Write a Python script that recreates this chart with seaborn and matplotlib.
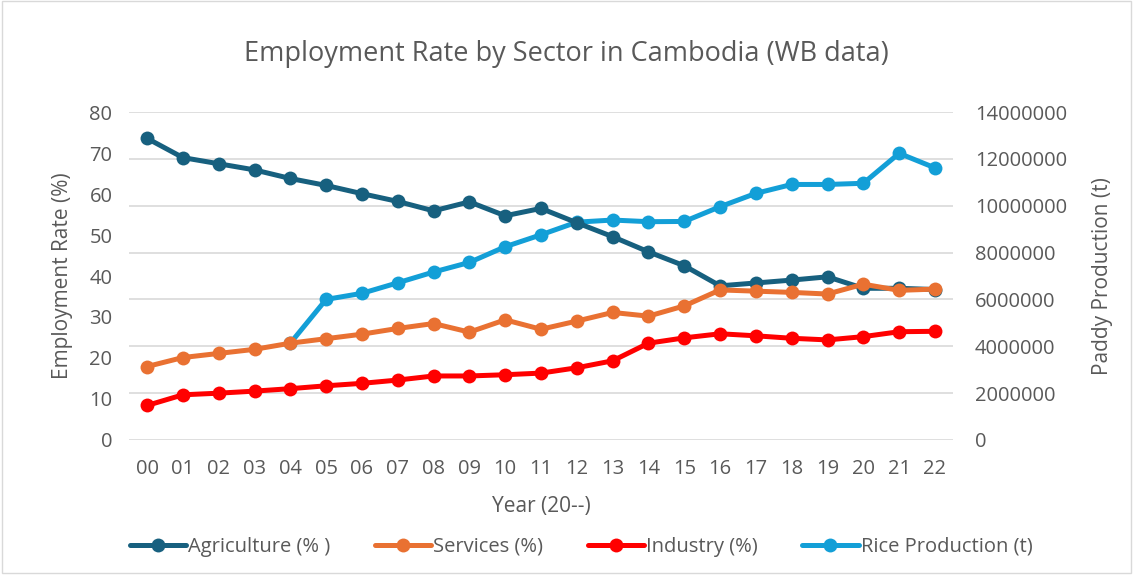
import numpy as np
import pandas as pd
import matplotlib.pyplot as plt
import seaborn as sns
from matplotlib.lines import Line2D

# Data
years = ["00", "01", "02", "03", "04", "05", "06", "07", "08", "09", "10",
         "11", "12", "13", "14", "15", "16", "17", "18", "19", "20", "21", "22"]
agriculture = [73.6, 68.9, 67.4, 65.9, 63.8, 62.1, 60.1, 58.2, 55.9, 58.1, 54.7,
               56.5, 53.0, 49.6, 45.9, 42.5, 37.6, 38.3, 39.0, 39.8, 37.0, 37.0, 36.7]
services = [17.9, 20.1, 21.1, 22.1, 23.6, 24.7, 25.8, 27.2, 28.4, 26.3, 29.3,
            27.0, 29.0, 31.1, 30.2, 32.7, 36.6, 36.3, 36.0, 35.6, 38.0, 36.5, 36.8]
industry = [8.4, 11.0, 11.4, 11.9, 12.5, 13.2, 13.8, 14.6, 15.6, 15.6, 15.9,
            16.3, 17.6, 19.3, 23.6, 24.9, 25.9, 25.4, 24.8, 24.4, 25.2, 26.4, 26.5]
rice = [np.nan, np.nan, np.nan, np.nan, 4130000, 6000000, 6260000, 6710000, 7170000,
        7580000, 8250000, 8760000, 9300000, 9390000, 9320000, 9330000, 9960000,
        10530000, 10910000, 10910000, 10960000, 12240000, 11620000]

df = pd.DataFrame({"Year": np.arange(len(years)), "Agriculture": agriculture,
                   "Services": services, "Industry": industry, "Rice": rice})

c_agri = "#17607f"
c_serv = "#e97132"
c_ind = "#ff0000"
c_rice = "#139fd7"
grey = "#595959"

sns.set_style("white")
plt.rcParams["font.family"] = ["Open Sans", "DejaVu Sans"]

fig, ax = plt.subplots(figsize=(11.33, 5.75), dpi=100)
fig.subplots_adjust(left=0.114, right=0.841, top=0.805, bottom=0.235)
ax2 = ax.twinx()

style = dict(marker="o", markersize=10, linewidth=3.6, markeredgewidth=0)
sns.lineplot(data=df, x="Year", y="Agriculture", ax=ax, color=c_agri, **style)
sns.lineplot(data=df, x="Year", y="Services", ax=ax, color=c_serv, **style)
sns.lineplot(data=df, x="Year", y="Industry", ax=ax, color=c_ind, **style)
sns.lineplot(data=df, x="Year", y="Rice", ax=ax2, color=c_rice, **style)
ax.set_zorder(2)
ax.patch.set_visible(False)
ax2.set_zorder(1)

ax.set_ylim(0, 80)
ax.set_yticks(range(0, 81, 10))
ax2.set_ylim(0, 14000000)
ax2.set_yticks(range(0, 14000001, 2000000))
ax2.set_yticklabels([str(v) for v in range(0, 14000001, 2000000)])
ax.set_xlim(-0.5, len(years) - 0.5)
ax.set_xticks(range(len(years)))
ax.set_xticklabels(years)

ax2.yaxis.grid(True, color="#d9d9d9", linewidth=1.2)
ax.yaxis.grid(False)
ax.xaxis.grid(False)
for a in (ax, ax2):
    for s in a.spines.values():
        s.set_visible(False)
    a.tick_params(length=0, labelsize=14.5, labelcolor=grey)
ax.tick_params(axis="y", pad=12)
ax.tick_params(axis="x", pad=14)
ax2.tick_params(axis="y", pad=16)

ax.set_xlabel("Year (20--)", fontsize=15, color=grey, labelpad=12)
ax.set_ylabel("Employment Rate (%)", fontsize=15, color=grey, labelpad=12)
ax2.set_ylabel("Paddy Production (t)", fontsize=15, color=grey, labelpad=18)
fig.suptitle("Employment Rate by Sector in Cambodia (WB data)", fontsize=19.5,
             color=grey, y=0.93)

handles = [Line2D([], [], color=c, marker="o", markersize=10, linewidth=3.6,
                  markeredgewidth=0) for c in (c_agri, c_serv, c_ind, c_rice)]
labels = ["Agriculture (% )", "Services (%)", "Industry (%)", "Rice Production (t)"]
fig.legend(handles, labels, loc="lower center", bbox_to_anchor=(0.513, 0.0),
           ncol=4, frameon=False, fontsize=14.5, labelcolor=grey,
           handlelength=2.8, handletextpad=0.1, columnspacing=2.2)

fig.patches.append(plt.Rectangle((0.002, 0.003), 0.996, 0.995, transform=fig.transFigure,
                                 fill=False, edgecolor="#d9d9d9", linewidth=1))

fig.savefig("out.png", dpi=100)
